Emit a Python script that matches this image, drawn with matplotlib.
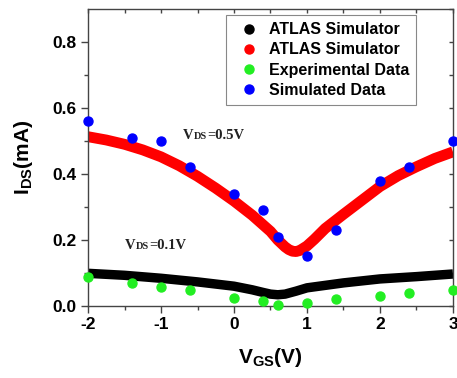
import matplotlib
matplotlib.use('Agg')
import matplotlib.pyplot as plt
from matplotlib.lines import Line2D
from matplotlib.offsetbox import TextArea, HPacker, AnnotationBbox

plt.rcParams['font.family'] = 'Liberation Sans'
plt.rcParams['mathtext.fontset'] = 'custom'
plt.rcParams['mathtext.rm'] = 'Liberation Sans'
plt.rcParams['mathtext.bf'] = 'Liberation Sans:bold'
plt.rcParams['axes.unicode_minus'] = False

# ATLAS simulator curves
vgs_red = [-2, -1.75, -1.5, -1.25, -1.0, -0.75, -0.5, -0.25, 0, 0.25, 0.5, 0.6, 0.7,
           0.75, 0.8, 0.85, 0.9, 1.0, 1.1, 1.25, 1.5, 1.75, 2.0, 2.25, 2.5, 2.75, 3.0]
ids_red = [0.513, 0.503, 0.49, 0.473, 0.452, 0.425, 0.393, 0.357, 0.318, 0.275, 0.226, 0.2, 0.179,
           0.171, 0.166, 0.165, 0.168, 0.182, 0.202, 0.235, 0.278, 0.32, 0.362, 0.395, 0.422, 0.447, 0.467]

vgs_black = [-2, -1.5, -1.0, -0.5, 0, 0.25, 0.4, 0.5, 0.6, 0.7, 0.85, 1.0, 1.5, 2.0, 2.5, 3.0]
ids_black = [0.099, 0.093, 0.084, 0.073, 0.06, 0.049, 0.041, 0.036, 0.034, 0.036, 0.045, 0.055,
             0.07, 0.082, 0.089, 0.097]

# measured / simulated points
vgs_pts = [-2, -1.4, -1.0, -0.6, 0, 0.4, 0.6, 1.0, 1.4, 2.0, 2.4, 3.0]
ids_sim = [0.56, 0.51, 0.50, 0.42, 0.34, 0.29, 0.21, 0.15, 0.23, 0.38, 0.42, 0.50]
ids_exp = [0.089, 0.069, 0.059, 0.048, 0.023, 0.014, 0.004, 0.01, 0.02, 0.03, 0.038, 0.048]

labels = ['ATLAS Simulator', 'ATLAS Simulator', 'Experimental Data', 'Simulated Data']
colors = ['black', 'red', '#22ee22', 'blue']

fig = plt.figure(figsize=(4.57, 3.78), dpi=100)
ax = fig.add_axes([0.1926, 0.1905, 0.7986, 0.7857])

ax.plot(vgs_black, ids_black, color='black', lw=6.8, solid_capstyle='butt',
        solid_joinstyle='round', zorder=2)
ax.plot(vgs_red, ids_red, color='red', lw=7.8, solid_capstyle='butt',
        solid_joinstyle='round', zorder=2)
ax.scatter(vgs_pts, ids_exp, s=42, color=colors[2], zorder=3, clip_on=False)
ax.scatter(vgs_pts, ids_sim, s=42, color=colors[3], zorder=3, clip_on=False)

ax.set_xlim(-2, 3)
ax.set_ylim(0, 0.9)
ax.set_xticks([-2, -1, 0, 1, 2, 3])
ax.set_xticks([-1.5, -0.5, 0.5, 1.5, 2.5], minor=True)
ax.set_yticks([0.0, 0.2, 0.4, 0.6, 0.8])
ax.set_yticks([0.1, 0.3, 0.5, 0.7], minor=True)
ax.set_yticklabels(['0.0', '0.2', '0.4', '0.6', '0.8'])

for sp in ax.spines.values():
    sp.set_color('#444444')
    sp.set_linewidth(1.0)

ax.tick_params(which='major', direction='out', length=5, width=1, color='#444444',
               labelsize=12.5, pad=3)
ax.tick_params(which='minor', direction='out', length=3, width=1, color='#444444')
for lab in ax.get_xticklabels() + ax.get_yticklabels():
    lab.set_fontweight('bold')

# mirrored ticks on top/right pointing inward
top = ax.secondary_xaxis('top')
top.set_xticks([-2, -1.5, -1, -0.5, 0, 0.5, 1, 1.5, 2, 2.5, 3])
top.tick_params(direction='in', length=3, width=1, color='#444444', labeltop=False)
top.spines['top'].set_visible(False)
right = ax.secondary_yaxis('right')
right.set_yticks([0.1 * i for i in range(10)])
right.tick_params(direction='in', length=3, width=1, color='#444444', labelright=False)
right.spines['right'].set_visible(False)

ax.set_xlabel('V$_{\\mathbf{GS}}$(V)', fontsize=15, fontweight='bold', labelpad=10)
ax.set_ylabel('I$_{\\mathbf{DS}}$(mA)', fontsize=15, fontweight='bold', labelpad=13)

handles = [Line2D([], [], ls='none', marker='o', ms=6.5, color=c) for c in colors]
leg = ax.legend(handles, labels, loc='upper right', bbox_to_anchor=(0.899, 0.98),
                borderaxespad=0, fancybox=False, framealpha=1, edgecolor='#888888',
                prop={'family': 'Liberation Sans', 'weight': 'bold', 'size': 11.5},
                handlelength=2.0, handletextpad=0.2, labelspacing=0.33,
                borderpad=0.45)
leg.get_frame().set_linewidth(0.8)


def vds_label(x, y, value):
    tp = dict(family='Liberation Serif', weight='bold', color='#222222')
    parts = [TextArea('V', textprops=dict(size=10.5, **tp)),
             TextArea('DS', textprops=dict(size=7.5, **tp)),
             TextArea('=' + value, textprops=dict(size=10.5, **tp))]
    box = HPacker(children=parts, align='baseline', pad=0, sep=0)
    ab = AnnotationBbox(box, (x, y), xycoords='data', box_alignment=(0, 0.5),
                        frameon=False, pad=0)
    ax.add_artist(ab)


vds_label(-0.70, 0.518, '0.5V')
vds_label(-1.49, 0.183, '0.1V')

fig.savefig('out.png', dpi=100)
